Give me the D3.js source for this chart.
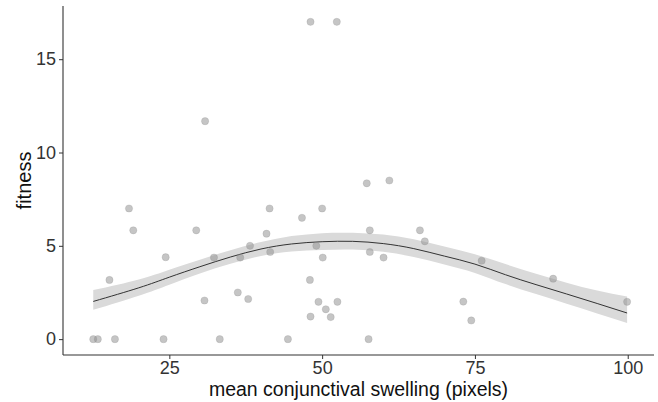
<!DOCTYPE html>
<html>
<head>
<meta charset="utf-8">
<script src="https://cdn.jsdelivr.net/npm/d3@7"></script>
<style>
  body { margin: 0; background: #fff; }
  text { font-family: "Liberation Sans", Arial, sans-serif; }
</style>
</head>
<body>
<svg id="chart" width="658" height="402"></svg>
<script>
"use strict";

const swelling = [12.55, 13.3, 15.2, 16.1, 18.4, 19.1, 24.05, 24.4, 29.4, 30.75, 30.85, 32.3,
    33.25, 36.2, 36.6, 37.9, 38.2, 40.9, 41.4, 41.5, 44.4, 46.7, 48.0, 48.1, 48.1, 49.05,
    49.4, 50.0, 50.1, 50.6, 51.4, 52.4, 52.5, 57.3, 57.6, 57.8, 57.8, 60.05, 61.0, 66.0,
    66.8, 73.1, 74.4, 76.1, 87.8, 99.9];
const fitness = [0, 0, 3.17, 0, 7.0, 5.83, 0, 4.39, 5.83, 2.07, 11.68, 4.37,
    0, 2.5, 4.37, 2.15, 5.0, 5.65, 7.0, 4.67, 0, 6.5, 3.17, 1.21, 17.0, 5.0,
    2.0, 7.0, 4.37, 1.6, 1.18, 17.0, 2.0, 8.35, 0, 5.83, 4.67, 4.37, 8.5, 5.83,
    5.24, 2.01, 1.0, 4.2, 3.24, 2.0];

// fitted curve and its band, read at a few x positions
const fitX  = [12.55, 20, 25, 30, 35, 40, 45, 50, 55, 60, 65, 70, 75, 80, 85, 90, 95, 99.9];
const fitY  = [2.02, 2.75, 3.32, 3.88, 4.4, 4.83, 5.1, 5.22, 5.24, 5.12, 4.85, 4.45, 4.02, 3.45, 2.92, 2.42, 1.91, 1.40];
const fitLo = [1.57, 2.33, 2.92, 3.52, 4.04, 4.46, 4.7, 4.78, 4.80, 4.68, 4.40, 4.0, 3.55, 2.95, 2.42, 1.9, 1.38, 0.87];
const fitHi = [2.63, 3.2, 3.72, 4.26, 4.76, 5.2, 5.52, 5.68, 5.70, 5.60, 5.35, 4.97, 4.55, 4.02, 3.5, 3.02, 2.6, 2.28];

const xTicks = [25, 50, 75, 100];
const yTicks = [0, 5, 10, 15];

const margin = {left: 63, right: 4, top: 6, bottom: 47};
const W = 658, H = 402;

const svg = d3.select("#chart");

const x = d3.scaleLinear().domain([7.6, 104.3]).range([margin.left, W - margin.right]);
const y = d3.scaleLinear().domain([-0.85, 17.85]).range([H - margin.bottom, margin.top]);

const band = fitX.map((d, i) => ({x: d, y: fitY[i], lo: fitLo[i], hi: fitHi[i]}));

svg.append("path")
    .datum(band)
    .attr("fill", "#dadada")
    .attr("d", d3.area()
        .x(d => x(d.x))
        .y0(d => y(d.lo))
        .y1(d => y(d.hi))
        .curve(d3.curveNatural));

svg.append("path")
    .datum(band)
    .attr("fill", "none")
    .attr("stroke", "#333")
    .attr("stroke-width", 1)
    .attr("d", d3.line()
        .x(d => x(d.x))
        .y(d => y(d.y))
        .curve(d3.curveNatural));

svg.append("g")
    .selectAll("circle")
    .data(swelling.map((d, i) => [d, fitness[i]]))
    .enter()
    .append("circle")
    .attr("cx", d => x(d[0]))
    .attr("cy", d => y(d[1]))
    .attr("r", 3.6)
    .attr("fill", "#8c8c8c")
    .attr("fill-opacity", 0.5)
    .attr("stroke", "#8c8c8c")
    .attr("stroke-opacity", 0.4)
    .attr("stroke-width", 0.6);

// axes
let gx = svg.append("g")
    .attr("transform", "translate(0," + (H - margin.bottom) + ")")
    .call(d3.axisBottom(x).tickValues(xTicks).tickSize(4).tickPadding(2));
let gy = svg.append("g")
    .attr("transform", "translate(" + margin.left + ",0)")
    .call(d3.axisLeft(y).tickValues(yTicks).tickSize(4).tickPadding(3));

[gx, gy].forEach(g => {
    g.select(".domain").attr("stroke", "#333").attr("stroke-width", 1.1)
        .attr("d", g === gx
            ? "M" + margin.left + ",0H" + (W - margin.right)
            : "M0," + margin.top + "V" + (H - margin.bottom));
    g.selectAll(".tick line").attr("stroke", "#333");
    g.selectAll(".tick text").attr("fill", "#333").style("font-size", "18px")
        .style("font-family", "'Liberation Sans', Arial, sans-serif");
});

svg.append("text")
    .attr("x", (margin.left + W - margin.right) / 2)
    .attr("y", 396)
    .attr("text-anchor", "middle")
    .attr("fill", "#111")
    .style("font-size", "19.5px")
    .text("mean conjunctival swelling (pixels)");

svg.append("text")
    .attr("transform", "translate(31," + ((margin.top + H - margin.bottom) / 2) + ") rotate(-90)")
    .attr("text-anchor", "middle")
    .attr("fill", "#111")
    .style("font-size", "20px")
    .text("fitness");
</script>
</body>
</html>
